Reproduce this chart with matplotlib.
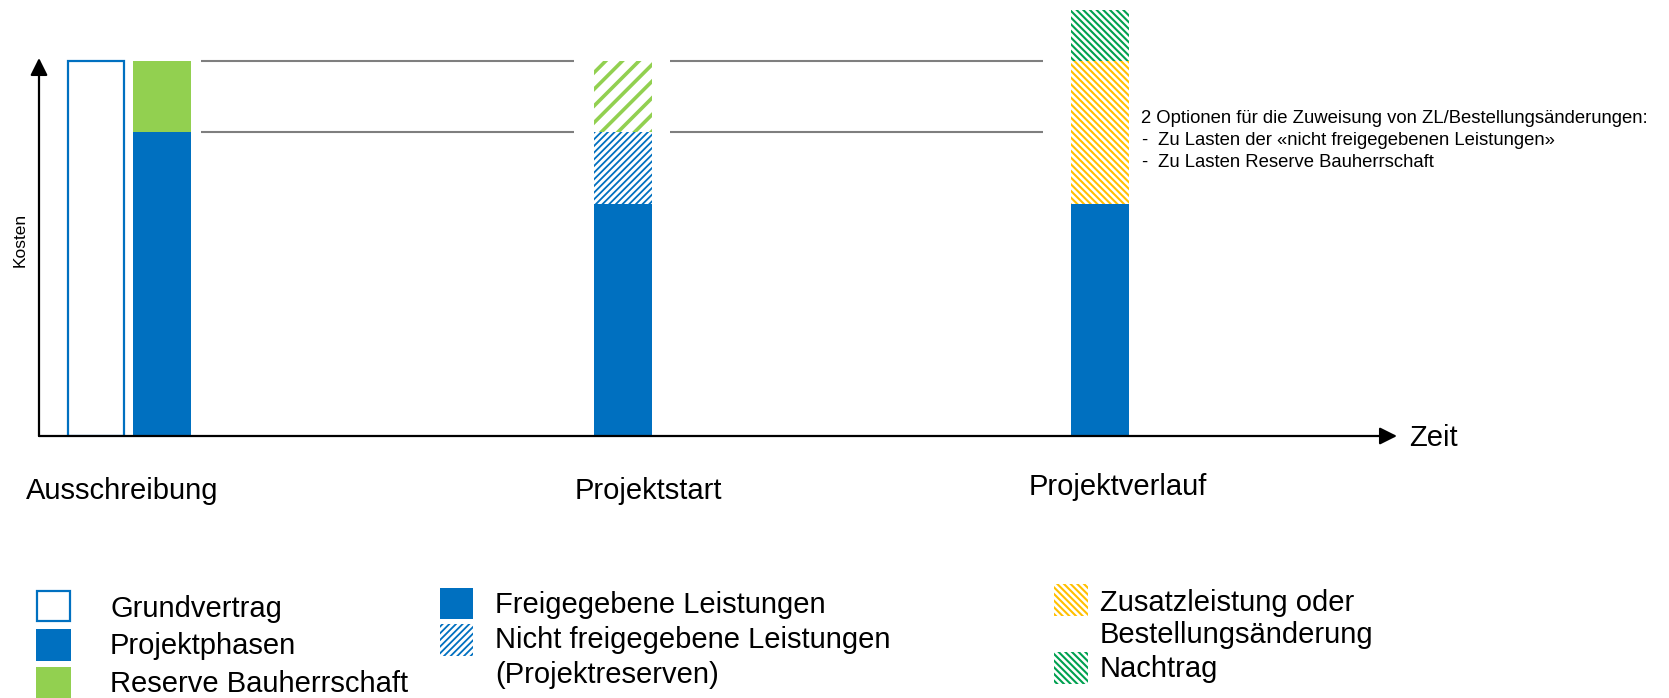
import matplotlib
matplotlib.use('Agg')
import matplotlib.pyplot as plt
from matplotlib.patches import Rectangle
from matplotlib.transforms import Affine2D

# ---------------- data ----------------
stages = ['Ausschreibung', 'Projektstart', 'Projektverlauf']
grundvertrag = [100]
projektphasen = [81]
reserve_bauherrschaft = [19]
projektstart_freigegeben = [62]
projektstart_nicht_freigegeben = [19]
projektstart_reserve = [19]
projektverlauf_freigegeben = [62]
projektverlauf_zusatzleistung = [38]
projektverlauf_nachtrag = [13.5]

legend_col1 = ['Grundvertrag', 'Projektphasen', 'Reserve Bauherrschaft']
legend_col2 = ['Freigegebene Leistungen', 'Nicht freigegebene Leistungen', '(Projektreserven)']
legend_col3 = ['Zusatzleistung oder', 'Bestellungsänderung', 'Nachtrag']
note_title = '2 Optionen für die Zuweisung von ZL/Bestellungsänderungen:'
note_items = ['Zu Lasten der «nicht freigegebenen Leistungen»', 'Zu Lasten Reserve Bauherrschaft']
axis_x_label = 'Zeit'
axis_y_label = 'Kosten'

# ---------------- style / layout ----------------
W, H, DPI = 1669, 698, 100
BLUE = '#0070C0'
GREEN = '#92D050'
YELLOW = '#FFC000'
DGREEN = '#00A050'
GRAY = '#7F7F7F'
plt.rcParams['font.family'] = ['Liberation Sans', 'DejaVu Sans']
BIG = 21
NOTE = 13.3

HATCH_BLUE = '/////'
HATCH_GREEN = '//'
HATCH_BACK = '\\' * 5

fig = plt.figure(figsize=(W / DPI, H / DPI), dpi=DPI)
fig.patch.set_facecolor('white')
PX = Affine2D().scale(1 / W, -1 / H).translate(0, 1) + fig.transFigure

X0, Y0 = 39, 436          # pixel position of the axes origin
UNIT = 3.75               # pixels per cost unit
ax = fig.add_axes([X0 / W, (H - Y0) / H, (W - X0) / W, Y0 / H])
ax.set_xlim(0, W - X0)
ax.set_ylim(0, Y0 / UNIT)
ax.axis('off')

BW = 58
pos = [57, 122.5, 583.5, 1061]


def set_hlw(patches, lw):
    for p in patches:
        if hasattr(p, 'set_hatch_linewidth'):
            p.set_hatch_linewidth(lw)


def hatch_bar(x, h, bottom, color, hatch, hlw):
    plt.rcParams['hatch.linewidth'] = hlw
    bars = ax.bar(x, h, width=BW, bottom=bottom, color='white', edgecolor=color,
                  linewidth=0, hatch=hatch, zorder=2)
    set_hlw(bars, hlw)
    return bars


# Ausschreibung
ax.bar(pos[0], grundvertrag, width=BW - 2, color='white', edgecolor=BLUE, linewidth=1.6, zorder=2)
ax.bar(pos[1], projektphasen, width=BW, color=BLUE, linewidth=0, zorder=2)
ax.bar(pos[1], reserve_bauherrschaft, width=BW, bottom=projektphasen, color=GREEN, linewidth=0, zorder=2)

# Projektstart
b = projektstart_freigegeben[0]
ax.bar(pos[2], projektstart_freigegeben, width=BW, color=BLUE, linewidth=0, zorder=2)
hatch_bar(pos[2], projektstart_nicht_freigegeben, b, BLUE, HATCH_BLUE, 1.3)
b += projektstart_nicht_freigegeben[0]
hatch_bar(pos[2], projektstart_reserve, b, GREEN, HATCH_GREEN, 2.6)

# Projektverlauf
b = projektverlauf_freigegeben[0]
ax.bar(pos[3], projektverlauf_freigegeben, width=BW, color=BLUE, linewidth=0, zorder=2)
hatch_bar(pos[3], projektverlauf_zusatzleistung, b, YELLOW, HATCH_BACK, 1.5)
b += projektverlauf_zusatzleistung[0]
hatch_bar(pos[3], projektverlauf_nachtrag, b, DGREEN, HATCH_BACK, 1.5)

# gray reference lines
lvl_low = projektphasen[0]
lvl_high = projektphasen[0] + reserve_bauherrschaft[0]
for xa, xb in [(pos[1] + BW / 2 + 10, pos[2] - BW / 2 - 20),
               (pos[2] + BW / 2 + 18, pos[3] - BW / 2 - 28)]:
    ax.hlines([lvl_low, lvl_high], xa, xb, color=GRAY, linewidth=1.5, zorder=1)

# axes arrows
arrow = dict(arrowstyle='-|>', lw=1.6, color='black', mutation_scale=26, shrinkA=0, shrinkB=0)
ax.annotate('', xy=(1358, 0), xytext=(0, 0), arrowprops=arrow, annotation_clip=False, zorder=3)
ax.annotate('', xy=(0, (Y0 - 58) / UNIT), xytext=(0, 0), arrowprops=arrow, annotation_clip=False, zorder=3)

# axis labels
fig.text(1409, 446, axis_x_label, transform=PX, fontsize=BIG, va='baseline', ha='left')
fig.text(20.5, 240, axis_y_label, transform=PX, fontsize=12.5, rotation=90, va='center', ha='center')

# stage labels
for label, (x, y) in zip(stages, [(26, 499), (575, 499), (1029, 495)]):
    fig.text(x, y, label, transform=PX, fontsize=BIG, va='baseline', ha='left')

# note
fig.text(1141, 123, note_title, transform=PX, fontsize=NOTE, va='baseline', ha='left')
for item, y in zip(note_items, [145, 167]):
    fig.text(1141, y, '-', transform=PX, fontsize=NOTE, va='baseline', ha='left')
    fig.text(1158, y, item, transform=PX, fontsize=NOTE, va='baseline', ha='left')


# legend (manual layout)
def swatch(x, y, w, h, face, edge=None, hatch=None, lw=0, hlw=1.5):
    plt.rcParams['hatch.linewidth'] = hlw
    r = Rectangle((x, y), w, h, transform=PX, facecolor=face,
                  edgecolor=edge if edge else face, linewidth=lw, hatch=hatch)
    set_hlw([r], hlw)
    fig.add_artist(r)


swatch(37, 591, 33, 30, 'white', edge=BLUE, lw=1.6)
swatch(36, 629, 35, 32, BLUE)
swatch(36, 667, 35, 32, GREEN)
for label, y in zip(legend_col1, [617, 654, 692]):
    fig.text(110, y, label, transform=PX, fontsize=BIG, va='baseline', ha='left')

swatch(440, 588, 33, 31, BLUE)
swatch(440, 624, 33, 32, 'white', edge=BLUE, hatch=HATCH_BLUE, hlw=1.3)
for label, y in zip(legend_col2, [613, 648, 683]):
    fig.text(495, y, label, transform=PX, fontsize=BIG, va='baseline', ha='left')

swatch(1054, 584, 34, 32, 'white', edge=YELLOW, hatch=HATCH_BACK, hlw=1.5)
swatch(1054, 652, 34, 32, 'white', edge=DGREEN, hatch=HATCH_BACK, hlw=1.5)
for label, y in zip(legend_col3, [611, 643, 677]):
    fig.text(1100, y, label, transform=PX, fontsize=BIG, va='baseline', ha='left')

fig.savefig('out.png', dpi=DPI, facecolor='white')
